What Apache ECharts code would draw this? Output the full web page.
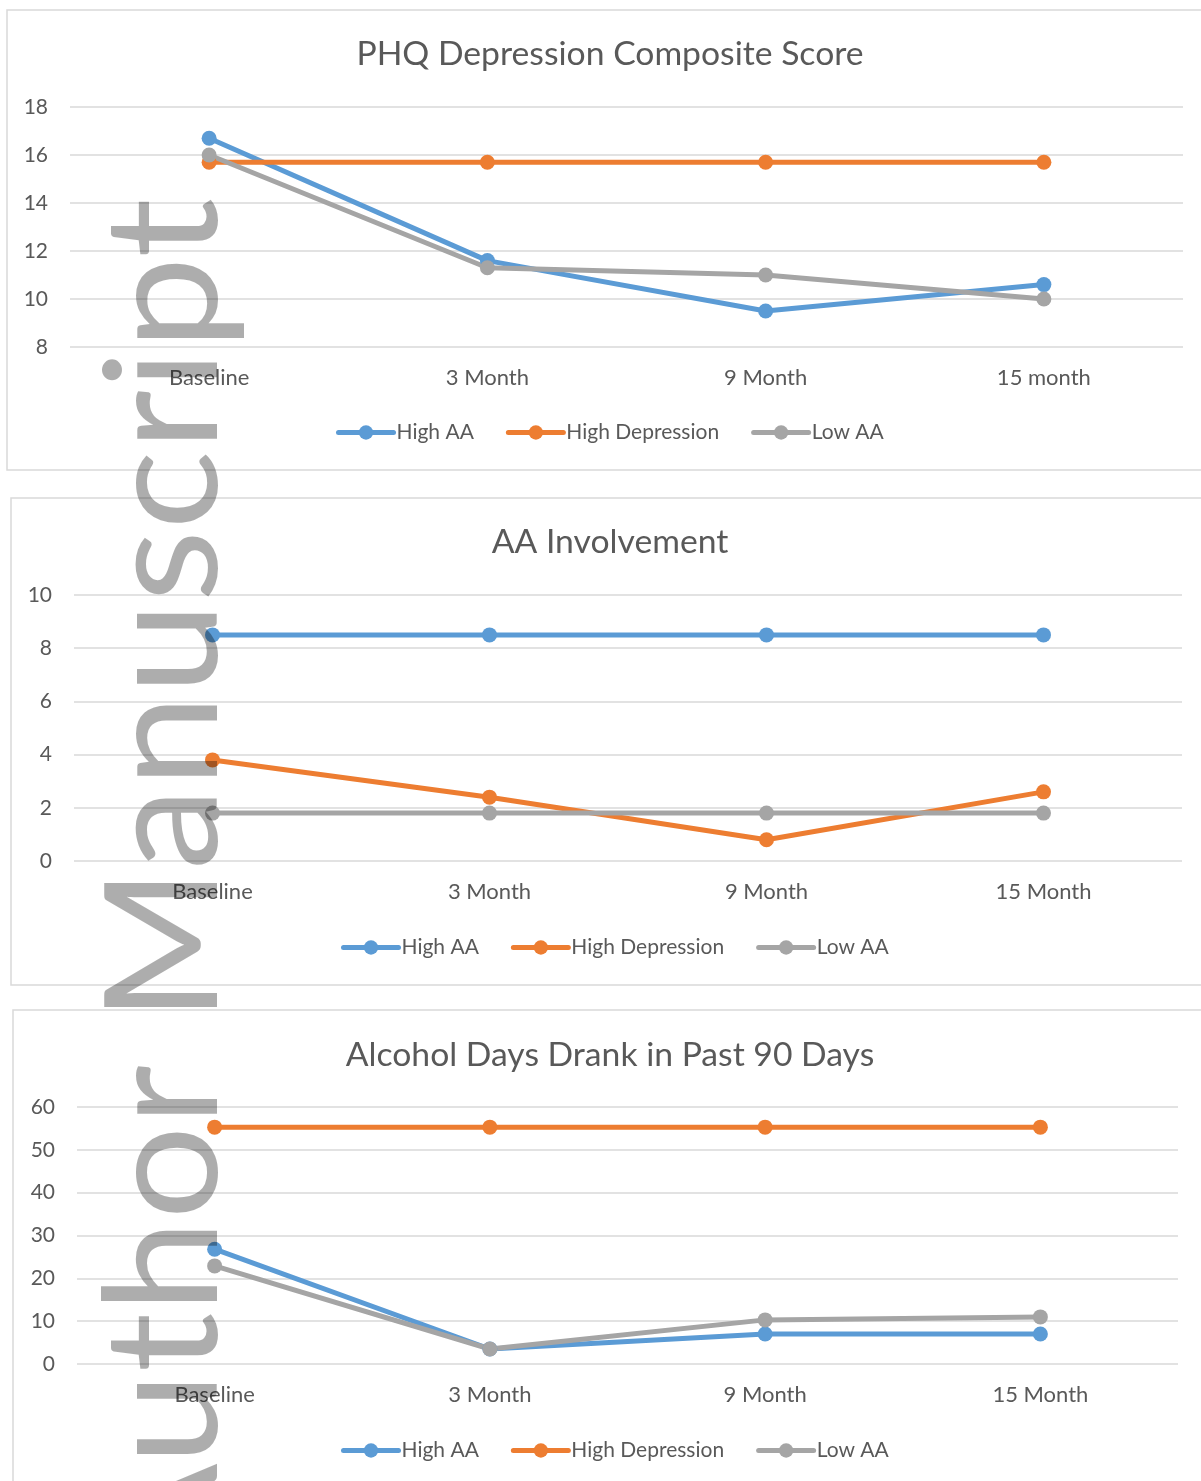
<!DOCTYPE html>
<html>
<head>
<meta charset="utf-8">
<title>PHQ / AA / Alcohol</title>
<script src="https://cdn.jsdelivr.net/npm/echarts@6/dist/echarts.min.js"></script>
<style>
html, body { margin: 0; padding: 0; background: #fff; }
#main { width: 1201px; height: 1481px; }
</style>
</head>
<body>
<div id="main"></div>
<script>
// categories
var cats1 = ['Baseline', '3 Month', '9 Month', '15 month'];
var cats2 = ['Baseline', '3 Month', '9 Month', '15 Month'];
var cats3 = ['Baseline', '3 Month', '9 Month', '15 Month'];

var names = ['High AA', 'High Depression', 'Low AA'];
var colors = ['#5b9bd5', '#ed7d31', '#a5a5a5'];

// PHQ Depression Composite Score
var phqHighAA = [16.7, 11.6, 9.5, 10.6];
var phqHighDep = [15.7, 15.7, 15.7, 15.7];
var phqLowAA = [16.0, 11.3, 11.0, 10.0];

// AA Involvement
var aaHighAA = [8.5, 8.5, 8.5, 8.5];
var aaHighDep = [3.8, 2.4, 0.8, 2.6];
var aaLowAA = [1.8, 1.8, 1.8, 1.8];

// Alcohol Days Drank in Past 90 Days
var alcHighAA = [26.8, 3.5, 7.0, 7.0];
var alcHighDep = [55.3, 55.3, 55.3, 55.3];
var alcLowAA = [22.9, 3.5, 10.3, 11.0];

var titles = ['PHQ Depression Composite Score', 'AA Involvement', 'Alcohol Days Drank in Past 90 Days'];

var FONT = 'Lato';
var TXT = '#595959';

var chart = echarts.init(document.getElementById('main'));

function mkX(idx, cats) {
  return {
    type: 'category', gridIndex: idx, data: cats,
    axisLine: { show: false }, axisTick: { show: false },
    axisLabel: { color: TXT, fontFamily: FONT, fontSize: 22, margin: 20 }
  };
}
function mkY(idx, min, max, step) {
  return {
    type: 'value', gridIndex: idx, min: min, max: max, interval: step,
    axisLine: { show: false }, axisTick: { show: false },
    axisLabel: { color: TXT, fontFamily: FONT, fontSize: 21, margin: 22 },
    splitLine: { lineStyle: { color: '#d9d9d9', width: 1.5 } }
  };
}
function mkSeries(idx, sets) {
  return sets.map(function (d, i) {
    return {
      name: names[i], type: 'line', xAxisIndex: idx, yAxisIndex: idx, data: d,
      symbol: 'circle', symbolSize: 15, color: colors[i],
      lineStyle: { width: 5, color: colors[i] },
      itemStyle: { color: colors[i] },
      emphasis: { disabled: true }
    };
  });
}
function mkLegend(left, top) {
  return {
    data: names, left: left, top: top, padding: 0,
    itemWidth: 55, itemHeight: 18, itemGap: 32,
    lineStyle: { width: 5, cap: 'round' },
    textStyle: { color: TXT, fontFamily: FONT, fontSize: 21, padding: [0, 0, 0, -2] }
  };
}
function mkTitle(text, top) {
  return {
    text: text, left: 605, top: top, textAlign: 'center',
    textStyle: { color: TXT, fontFamily: FONT, fontSize: 33.7, fontWeight: 'normal' }
  };
}

var option = {
  animation: false,
  backgroundColor: '#fff',
  title: [mkTitle(titles[0], 32), mkTitle(titles[1], 520), mkTitle(titles[2], 1033)],
  legend: [mkLegend(336, 422), mkLegend(341, 937), mkLegend(341, 1440)],
  grid: [
    { left: 70, top: 107, width: 1113, height: 240 },
    { left: 74, top: 595, width: 1108, height: 266 },
    { left: 77, top: 1107, width: 1101, height: 257 }
  ],
  xAxis: [mkX(0, cats1), mkX(1, cats2), mkX(2, cats3)],
  yAxis: [mkY(0, 8, 18, 2), mkY(1, 0, 10, 2), mkY(2, 0, 60, 10)],
  series: [].concat(
    mkSeries(0, [phqHighAA, phqHighDep, phqLowAA]),
    mkSeries(1, [aaHighAA, aaHighDep, aaLowAA]),
    mkSeries(2, [alcHighAA, alcHighDep, alcLowAA])
  ),
  graphic: [
    { type: 'rect', z: 0, shape: { x: 7, y: 10, width: 1220, height: 460 },
      style: { fill: 'none', stroke: '#d9d9d9', lineWidth: 1.5 } },
    { type: 'rect', z: 0, shape: { x: 11, y: 498, width: 1220, height: 487 },
      style: { fill: 'none', stroke: '#d9d9d9', lineWidth: 1.5 } },
    { type: 'rect', z: 0, shape: { x: 13, y: 1010, width: 1220, height: 500 },
      style: { fill: 'none', stroke: '#d9d9d9', lineWidth: 1.5 } },
    // watermark
    { type: 'text', z: 100, x: 166, y: 198, rotation: Math.PI / 2, scaleX: 1.06,
      style: { text: 'Author Manuscript', font: '157px Lato', fill: 'rgba(0,0,0,0.32)',
        textAlign: 'right', textVerticalAlign: 'middle' } }
  ]
};

chart.setOption(option);
</script>
</body>
</html>
